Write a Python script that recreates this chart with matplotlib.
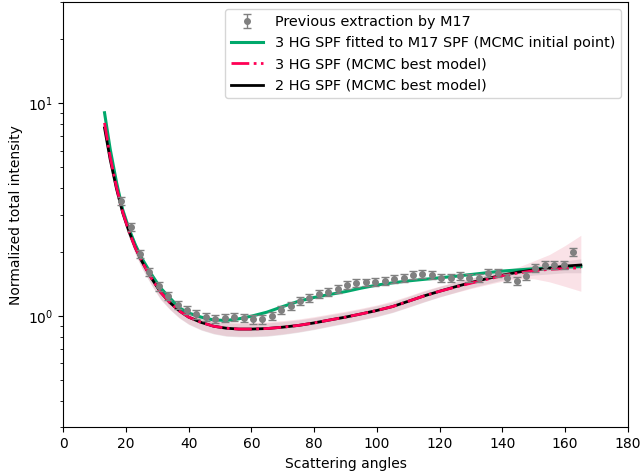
import matplotlib
matplotlib.use("Agg")
import matplotlib.pyplot as plt

# M17 extraction (scattering angle, intensity, error)
m17_ang = [18.5, 21.5, 24.5, 27.5, 30.5, 33.5, 36.5, 39.5, 42.5, 45.5,
           48.5, 51.5, 54.5, 57.5, 60.5, 63.5, 66.5, 69.5, 72.5, 75.5,
           78.5, 81.5, 84.5, 87.5, 90.5, 93.5, 96.5, 99.5, 102.5, 105.5,
           108.5, 111.5, 114.5, 117.5, 120.5, 123.5, 126.5, 129.5, 132.5, 135.5,
           138.5, 141.5, 144.5, 147.5, 150.5, 153.5, 156.5, 159.5, 162.5]
m17_val = [3.48, 2.62, 1.97, 1.62, 1.38, 1.24, 1.13, 1.07, 1.02, 0.99,
           0.97, 0.985, 0.99, 0.985, 0.965, 0.965, 1.00, 1.07, 1.12, 1.18,
           1.22, 1.27, 1.30, 1.34, 1.40, 1.43, 1.44, 1.45, 1.47, 1.49,
           1.52, 1.56, 1.58, 1.56, 1.51, 1.51, 1.55, 1.51, 1.52, 1.59,
           1.59, 1.52, 1.47, 1.54, 1.69, 1.74, 1.74, 1.74, 2.00]
m17_err = [0.14, 0.11, 0.085, 0.07, 0.06, 0.054, 0.05, 0.048, 0.045, 0.044,
           0.043, 0.043, 0.044, 0.044, 0.043, 0.043, 0.044, 0.047, 0.049, 0.051,
           0.053, 0.055, 0.056, 0.058, 0.06, 0.061, 0.061, 0.062, 0.063, 0.064,
           0.065, 0.067, 0.068, 0.067, 0.065, 0.065, 0.066, 0.065, 0.065, 0.068,
           0.068, 0.065, 0.063, 0.066, 0.073, 0.075, 0.075, 0.075, 0.085]

# model curves
ang = [13.2, 15, 17, 19, 21, 23, 25, 28, 31, 34, 37, 40, 44, 48, 52, 56, 60,
       65, 70, 75, 80, 85, 90, 95, 100, 105, 110, 115, 120, 125, 130, 135,
       140, 145, 150, 155, 160, 165]
hg3_init = [9.04, 6.1, 4.27, 3.16, 2.57, 2.17, 1.88, 1.585, 1.36, 1.22, 1.095,
            1.035, 0.99, 0.96, 0.955, 0.972, 1.0, 1.045, 1.11, 1.175, 1.225,
            1.265, 1.305, 1.355, 1.40, 1.435, 1.465, 1.49, 1.515, 1.54, 1.57,
            1.60, 1.63, 1.65, 1.67, 1.685, 1.70, 1.71]
hg3_best = [8.1, 5.6, 4.05, 3.08, 2.5, 2.1, 1.82, 1.52, 1.3, 1.16, 1.06,
            0.99, 0.935, 0.897, 0.878, 0.87, 0.87, 0.875, 0.888, 0.905, 0.93,
            0.96, 0.99, 1.025, 1.064, 1.11, 1.175, 1.245, 1.31, 1.37, 1.43,
            1.49, 1.55, 1.595, 1.635, 1.66, 1.675, 1.69]
hg2_best = [7.67, 5.45, 3.98, 3.06, 2.5, 2.1, 1.82, 1.52, 1.3, 1.16, 1.06,
            0.99, 0.935, 0.897, 0.878, 0.87, 0.87, 0.875, 0.888, 0.905, 0.93,
            0.96, 0.99, 1.025, 1.064, 1.11, 1.175, 1.245, 1.31, 1.375, 1.44,
            1.50, 1.56, 1.61, 1.65, 1.68, 1.72, 1.74]
# uncertainty bands
hg3_lo = [7.2, 5.1, 3.75, 2.88, 2.35, 1.97, 1.7, 1.42, 1.21, 1.08, 0.985,
          0.92, 0.865, 0.83, 0.81, 0.805, 0.805, 0.81, 0.825, 0.845, 0.87,
          0.9, 0.93, 0.965, 1.0, 1.045, 1.105, 1.17, 1.235, 1.29, 1.35,
          1.405, 1.46, 1.5, 1.5, 1.45, 1.38, 1.31]
hg3_hi = [9.0, 6.15, 4.38, 3.3, 2.67, 2.24, 1.94, 1.62, 1.39, 1.24, 1.135,
          1.06, 1.0, 0.96, 0.94, 0.935, 0.935, 0.94, 0.953, 0.97, 0.995,
          1.025, 1.055, 1.09, 1.13, 1.18, 1.245, 1.32, 1.385, 1.45, 1.51,
          1.575, 1.64, 1.7, 1.82, 1.95, 2.15, 2.4]
hg2_lo = [7.1, 5.05, 3.72, 2.87, 2.34, 1.96, 1.69, 1.41, 1.2, 1.075, 0.98,
          0.915, 0.86, 0.825, 0.805, 0.8, 0.8, 0.805, 0.82, 0.84, 0.865,
          0.895, 0.925, 0.96, 0.995, 1.04, 1.1, 1.165, 1.23, 1.295, 1.36,
          1.42, 1.48, 1.525, 1.56, 1.58, 1.6, 1.6]
hg2_hi = [8.2, 5.8, 4.22, 3.24, 2.64, 2.22, 1.92, 1.6, 1.37, 1.225, 1.12,
          1.045, 0.99, 0.95, 0.93, 0.925, 0.925, 0.93, 0.943, 0.96, 0.985,
          1.015, 1.045, 1.08, 1.12, 1.165, 1.235, 1.31, 1.38, 1.445, 1.51,
          1.57, 1.63, 1.685, 1.73, 1.77, 1.82, 1.86]

fig = plt.figure(figsize=(6.44, 4.76), dpi=100)
ax = fig.add_axes([0.098, 0.102, 0.877, 0.894])

ax.fill_between(ang, hg3_lo, hg3_hi, color='crimson', alpha=0.12, lw=0)
ax.fill_between(ang, hg2_lo, hg2_hi, color='#806070', alpha=0.15, lw=0)

l_init, = ax.plot(ang, hg3_init, color='#00a86b', lw=2.2,
                  label='3 HG SPF fitted to M17 SPF (MCMC initial point)')
l_hg2, = ax.plot(ang, hg2_best, color='black', lw=2,
                 label='2 HG SPF (MCMC best model)')
l_hg3, = ax.plot(ang, hg3_best, color='#ff0055', lw=2, ls='-.',
                 label='3 HG SPF (MCMC best model)')
eb = ax.errorbar(m17_ang, m17_val, yerr=m17_err, fmt='o', color='gray',
                 ms=4, capsize=3, elinewidth=1, label='Previous extraction by M17')

ax.set_yscale('log')
ax.set_xlim(0, 180)
ax.set_ylim(0.3, 30)
ax.set_xticks(range(0, 181, 20))
ax.set_xlabel('Scattering angles')
ax.set_ylabel('Normalized total intensity')

ax.legend(handles=[eb, l_init, l_hg3, l_hg2],
          labels=['Previous extraction by M17',
                  '3 HG SPF fitted to M17 SPF (MCMC initial point)',
                  '3 HG SPF (MCMC best model)',
                  '2 HG SPF (MCMC best model)'],
          loc='upper right', fontsize=10.4, handlelength=2.2)

fig.savefig('out.png', dpi=100)
